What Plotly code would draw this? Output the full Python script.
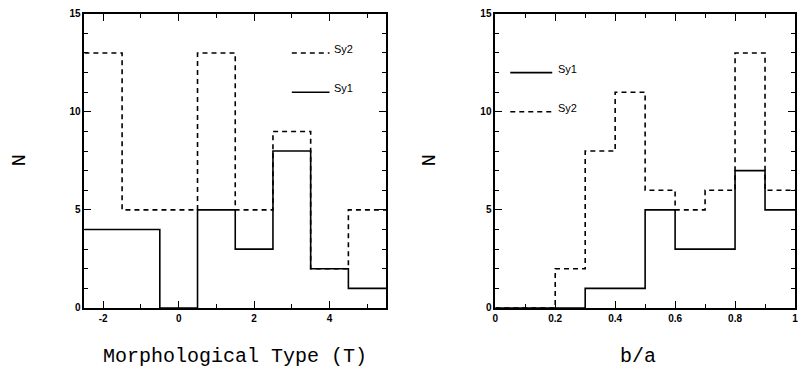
import plotly.graph_objects as go

# ---------------- data ----------------
morph_edges = [-2.5, -1.5, -0.5, 0.5, 1.5, 2.5, 3.5, 4.5, 5.5]
morph_sy1 = [4, 4, 0, 5, 3, 8, 2, 1]
morph_sy2 = [13, 5, 5, 13, 5, 9, 2, 5]

ba_edges = [0.0, 0.1, 0.2, 0.3, 0.4, 0.5, 0.6, 0.7, 0.8, 0.9, 1.0]
ba_sy1 = [0, 0, 0, 1, 1, 5, 3, 3, 7, 5]
ba_sy2 = [0, 0, 2, 8, 11, 6, 5, 6, 13, 6]

morph_tickvals = [-2, 0, 2, 4]
morph_ticktext = ["-2", "0", "2", "4"]
ba_tickvals = [0, 0.2, 0.4, 0.6, 0.8, 1.0]
ba_ticktext = ["0", "0.2", "0.4", "0.6", "0.8", "1"]
y_tickvals = [0, 5, 10, 15]

# legend sample positions (data coords)
left_legend = {"Sy2": (3.0, 4.0, 13), "Sy1": (3.0, 4.0, 11)}
right_legend = {"Sy1": (0.05, 0.19, 12), "Sy2": (0.05, 0.19, 10)}

DASH = "5px,4px"
LW = 1.6

def step(edges, counts):
    return list(edges), list(counts) + [counts[-1]]

fig = go.Figure()

for edges, counts, dash, xa in [
    (morph_edges, morph_sy2, DASH, "x"),
    (morph_edges, morph_sy1, "solid", "x"),
    (ba_edges, ba_sy2, DASH, "x2"),
    (ba_edges, ba_sy1, "solid", "x2"),
]:
    xs, ys = step(edges, counts)
    fig.add_trace(go.Scatter(
        x=xs, y=ys, mode="lines", line=dict(shape="hv", color="black", width=LW, dash=dash),
        xaxis=xa, yaxis="y" if xa == "x" else "y2", showlegend=False, hoverinfo="skip",
        cliponaxis=False))

# legend samples
for name, (x0, x1, yv) in left_legend.items():
    fig.add_trace(go.Scatter(x=[x0, x1], y=[yv, yv], mode="lines",
                             line=dict(color="black", width=LW, dash=DASH if name == "Sy2" else "solid"),
                             xaxis="x", yaxis="y", showlegend=False, hoverinfo="skip"))
    fig.add_annotation(x=x1, y=yv, xref="x", yref="y", text=name, showarrow=False,
                       xanchor="left", yanchor="bottom", xshift=2, yshift=-4,
                       font=dict(family="Liberation Sans", size=11, color="black"))
for name, (x0, x1, yv) in right_legend.items():
    fig.add_trace(go.Scatter(x=[x0, x1], y=[yv, yv], mode="lines",
                             line=dict(color="black", width=LW, dash=DASH if name == "Sy2" else "solid"),
                             xaxis="x2", yaxis="y2", showlegend=False, hoverinfo="skip"))
    fig.add_annotation(x=x1, y=yv, xref="x2", yref="y2", text=name, showarrow=False,
                       xanchor="left", yanchor="bottom", xshift=4, yshift=-4,
                       font=dict(family="Liberation Sans", size=11, color="black"))

axis_common = dict(showgrid=False, zeroline=False, showline=True, linecolor="black", linewidth=1.6,
                   mirror="ticks", ticks="inside", ticklen=7, tickwidth=1.2, tickcolor="black",
                   ticklabeloverflow="allow",
                   tickfont=dict(family="Liberation Sans", size=10, color="black", weight="bold"))

ydom = [1 - 312 / 381, 1 - 9 / 381]
fig.update_layout(
    width=798, height=381, margin=dict(l=0, r=0, t=0, b=0),
    paper_bgcolor="white", plot_bgcolor="white",
    xaxis=dict(domain=[82 / 798, 386 / 798], range=[-2.5, 5.5], anchor="y",
               tickmode="array", tickvals=morph_tickvals, ticktext=morph_ticktext,
               minor=dict(dtick=1, tick0=0, ticks="inside", ticklen=4, tickcolor="black", tickwidth=1.2),
               **axis_common),
    yaxis=dict(domain=ydom, range=[0, 15], anchor="x", tickmode="array", tickvals=y_tickvals,
               minor=dict(dtick=1, tick0=0, ticks="inside", ticklen=4, tickcolor="black", tickwidth=1.2),
               **axis_common),
    xaxis2=dict(domain=[496 / 798, 1.0], range=[0, 1.0], anchor="y2",
                tickmode="array", tickvals=ba_tickvals, ticktext=ba_ticktext,
                minor=dict(dtick=0.1, tick0=0, ticks="inside", ticklen=4, tickcolor="black", tickwidth=1.2),
                **axis_common),
    yaxis2=dict(domain=ydom, range=[0, 15], anchor="x2", tickmode="array", tickvals=y_tickvals,
                minor=dict(dtick=1, tick0=0, ticks="inside", ticklen=4, tickcolor="black", tickwidth=1.2),
                **axis_common),
)

title_font = dict(family="Liberation Mono", size=20, color="black")
fig.add_annotation(x=234 / 798, y=1 - 362 / 381, xref="paper", yref="paper", text="Morphological Type (T)",
                   showarrow=False, xanchor="center", yanchor="middle", font=title_font)
fig.add_annotation(x=640 / 798, y=1 - 362 / 381, xref="paper", yref="paper", text="b/a",
                   showarrow=False, xanchor="center", yanchor="middle", font=title_font)
fig.add_annotation(x=17 / 798, y=1 - 160 / 381, xref="paper", yref="paper", text="N", textangle=-90,
                   showarrow=False, xanchor="center", yanchor="middle", font=title_font)
fig.add_annotation(x=430 / 798, y=1 - 160 / 381, xref="paper", yref="paper", text="N", textangle=-90,
                   showarrow=False, xanchor="center", yanchor="middle", font=title_font)

fig.write_html("out.html")
